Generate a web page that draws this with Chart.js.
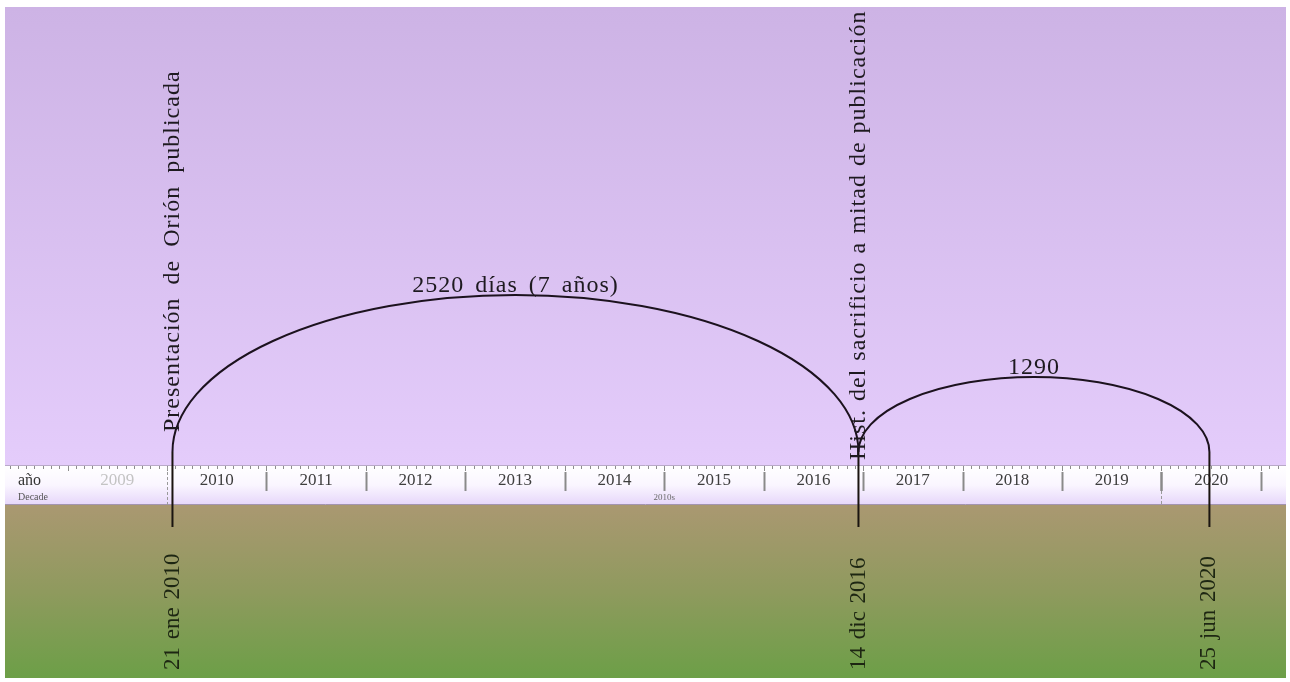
<!DOCTYPE html>
<html>
<head>
<meta charset="utf-8">
<script src="https://cdn.jsdelivr.net/npm/chart.js@4"></script>
<style>
  html, body { margin: 0; padding: 0; background: #fff; }
  #wrap { position: absolute; left: 5px; top: 7px; width: 1281px; height: 671px; }
</style>
</head>
<body>
<div id="wrap"><canvas id="grafico"></canvas></div>
<script>
// datos de la línea de tiempo
const years = [2009, 2010, 2011, 2012, 2013, 2014, 2015, 2016, 2017, 2018, 2019, 2020];
const eventYears = [2010.055, 2016.953, 2020.482];
const eventDates = ['21 ene 2010', '14 dic 2016', '25 jun 2020'];
const eventTitles = ['Presentación de Orión publicada', 'Hist. del sacrificio a mitad de publicación', ''];
const spanLabels = ['2520 días (7 años)', '1290'];
const spanHeights = [157, 75];
const decades = [2010];
const decadeLabels = ['2010s'];

const SERIF = '"Liberation Serif", "DejaVu Serif", serif';
const stemBottom = -75;
// espaciado entre palabras de los títulos verticales
const titleGap = [6, 1, 0];
const titleBase = [20, -8, 0];

function linea(ctx, x1, y1, x2, y2) {
  ctx.beginPath();
  ctx.moveTo(x1, y1);
  ctx.lineTo(x2, y2);
  ctx.stroke();
}

function textoVertical(ctx, texto, x, yBase, size, letra, espacio, color) {
  ctx.save();
  ctx.translate(x, yBase);
  ctx.rotate(-Math.PI / 2);
  ctx.font = size + 'px ' + SERIF;
  ctx.letterSpacing = letra + 'px';
  ctx.wordSpacing = espacio + 'px';
  ctx.fillStyle = color;
  ctx.textAlign = 'left';
  ctx.textBaseline = 'middle';
  ctx.fillText(texto, 0, 0);
  ctx.restore();
}

const fondoRegla = {
  id: 'fondoRegla',
  beforeDatasetsDraw(chart) {
    const ctx = chart.ctx;
    const xs = chart.scales.x;
    const ys = chart.scales.y;
    const w = chart.width;
    const bandTop = ys.getPixelForValue(-13);
    const bandBot = ys.getPixelForValue(-53);
    const top = ys.getPixelForValue(ys.max);
    const bottom = ys.getPixelForValue(ys.min);

    ctx.save();
    // cielo
    let g = ctx.createLinearGradient(0, top, 0, bandTop);
    g.addColorStop(0, '#cdb3e5');
    g.addColorStop(1, '#e4ccfb');
    ctx.fillStyle = g;
    ctx.fillRect(0, top, w, bandTop - top);
    // suelo
    g = ctx.createLinearGradient(0, bandBot, 0, bottom);
    g.addColorStop(0, '#aa9871');
    g.addColorStop(0.5, '#8f9a5e');
    g.addColorStop(1, '#6c9f47');
    ctx.fillStyle = g;
    ctx.fillRect(0, bandBot, w, bottom - bandBot);
    // banda de la regla
    g = ctx.createLinearGradient(0, bandTop, 0, bandBot);
    g.addColorStop(0, '#ffffff');
    g.addColorStop(0.5, '#faf6ff');
    g.addColorStop(1, '#e6d6fa');
    ctx.fillStyle = g;
    ctx.fillRect(0, bandTop, w, bandBot - bandTop);
    ctx.strokeStyle = '#b9aac8';
    ctx.lineWidth = 1;
    linea(ctx, 0, bandTop + 0.5, w, bandTop + 0.5);
    ctx.strokeStyle = '#a394b0';
    linea(ctx, 0, bandBot - 0.5, w, bandBot - 0.5);

    // marcas mensuales
    ctx.strokeStyle = '#8d8d8d';
    for (let a = years[0] - 1; a <= years[years.length - 1] + 1; a++) {
      for (let m = 0; m < 12; m++) {
        const px = Math.round(xs.getPixelForValue(a + m / 12)) + 0.5;
        linea(ctx, px, bandTop + 1, px, bandTop + (m === 0 ? 6 : 4));
      }
    }

    // separadores de año y etiquetas
    const yLabel = ys.getPixelForValue(-29);
    ctx.textAlign = 'center';
    ctx.textBaseline = 'middle';
    years.forEach((a, i) => {
      const px = Math.round(xs.getPixelForValue(a)) + 0.5;
      if (decades.indexOf(a) < 0 && i > 0) {
        ctx.strokeStyle = '#8a8a8a';
        ctx.lineWidth = 2;
        linea(ctx, px, bandTop + 7, px, bandTop + 26);
      }
      ctx.fillStyle = a < decades[0] ? '#c4c4c4' : '#3e3e3e';
      ctx.font = '17px ' + SERIF;
      ctx.fillText(String(a), xs.getPixelForValue(a + 0.5), yLabel);
    });
    const fin = Math.round(xs.getPixelForValue(years[years.length - 1] + 1)) + 0.5;
    ctx.strokeStyle = '#8a8a8a';
    ctx.lineWidth = 2;
    linea(ctx, fin, bandTop + 7, fin, bandTop + 26);

    // limites de década
    ctx.lineWidth = 1;
    ctx.strokeStyle = '#9a9a9a';
    ctx.setLineDash([3, 2]);
    decades.forEach(d => {
      linea(ctx, Math.round(xs.getPixelForValue(d)) + 0.5, bandTop + 2, Math.round(xs.getPixelForValue(d)) + 0.5, bandBot);
      linea(ctx, Math.round(xs.getPixelForValue(d + 10)) + 0.5, bandTop + 26, Math.round(xs.getPixelForValue(d + 10)) + 0.5, bandBot);
    });
    ctx.setLineDash([]);
    ctx.strokeStyle = '#8a8a8a';
    ctx.lineWidth = 2;
    const p2020 = Math.round(xs.getPixelForValue(decades[0] + 10)) + 0.5;
    linea(ctx, p2020, bandTop + 7, p2020, bandTop + 26);

    ctx.fillStyle = '#6a6a6a';
    ctx.font = '9px ' + SERIF;
    decades.forEach((d, i) => {
      ctx.fillText(decadeLabels[i], xs.getPixelForValue(d + 5), ys.getPixelForValue(-46));
    });

    // rótulos de fila
    ctx.textAlign = 'left';
    ctx.fillStyle = '#333';
    ctx.font = '16px ' + SERIF;
    ctx.fillText('año', 13, yLabel);
    ctx.fillStyle = '#555';
    ctx.font = '10px ' + SERIF;
    ctx.fillText('Decade', 13, ys.getPixelForValue(-45));
    ctx.restore();
  },
  afterDatasetsDraw(chart) {
    const ctx = chart.ctx;
    const xs = chart.scales.x;
    const ys = chart.scales.y;
    const y0 = ys.getPixelForValue(0);
    ctx.save();
    // arcos entre eventos
    ctx.strokeStyle = '#1c121e';
    ctx.lineWidth = 2;
    for (let i = 0; i < spanLabels.length; i++) {
      const xa = xs.getPixelForValue(eventYears[i]);
      const xb = xs.getPixelForValue(eventYears[i + 1]);
      const ry = y0 - ys.getPixelForValue(spanHeights[i]);
      ctx.beginPath();
      ctx.ellipse((xa + xb) / 2, y0, (xb - xa) / 2, ry, 0, Math.PI, 2 * Math.PI);
      ctx.stroke();
      ctx.font = '24px ' + SERIF;
      ctx.letterSpacing = '1px';
      ctx.wordSpacing = '4px';
      ctx.fillStyle = '#1e1a20';
      ctx.textAlign = 'center';
      ctx.textBaseline = 'alphabetic';
      ctx.fillText(spanLabels[i], (xa + xb) / 2, y0 - ry - 3);
    }
    // textos verticales
    eventYears.forEach((ev, i) => {
      const px = xs.getPixelForValue(ev);
      if (eventTitles[i]) {
        textoVertical(ctx, eventTitles[i], px, ys.getPixelForValue(titleBase[i]), 24, 1, titleGap[i], '#1e1a20');
      }
      textoVertical(ctx, eventDates[i], px, ys.getPixelForValue(-218), 23, 0, 2, '#1d2612');
    });
    ctx.restore();
  }
};

const ctx = document.getElementById('grafico').getContext('2d');
new Chart(ctx, {
  type: 'scatter',
  data: {
    datasets: eventYears.map(ev => ({
      data: [{ x: ev, y: 0 }, { x: ev, y: stemBottom }],
      showLine: true,
      borderColor: '#1a1410',
      borderWidth: 2,
      pointRadius: 0
    }))
  },
  options: {
    responsive: true,
    maintainAspectRatio: false,
    devicePixelRatio: 1,
    animation: false,
    layout: { padding: 0 },
    plugins: { legend: { display: false }, tooltip: { enabled: false } },
    scales: {
      x: { type: 'linear', min: 2008.371, max: 2021.252, display: false },
      y: { min: -226, max: 445, display: false }
    }
  },
  plugins: [fondoRegla]
});
</script>
</body>
</html>
